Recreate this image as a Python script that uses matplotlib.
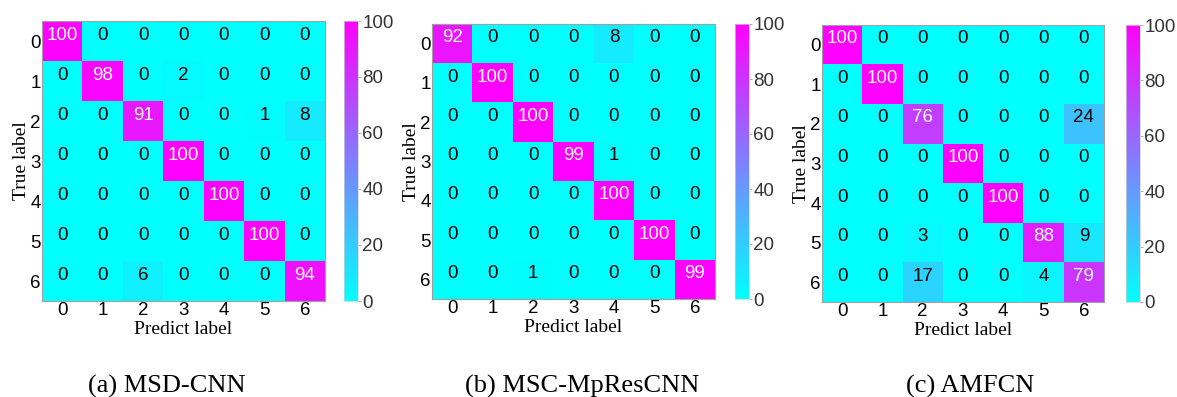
import numpy as np
import matplotlib.pyplot as plt

# confusion matrices (%)
classes = ['0', '1', '2', '3', '4', '5', '6']
cm_msd_cnn = [
    [100, 0, 0, 0, 0, 0, 0],
    [0, 98, 0, 2, 0, 0, 0],
    [0, 0, 91, 0, 0, 1, 8],
    [0, 0, 0, 100, 0, 0, 0],
    [0, 0, 0, 0, 100, 0, 0],
    [0, 0, 0, 0, 0, 100, 0],
    [0, 0, 6, 0, 0, 0, 94],
]
cm_msc_mprescnn = [
    [92, 0, 0, 0, 8, 0, 0],
    [0, 100, 0, 0, 0, 0, 0],
    [0, 0, 100, 0, 0, 0, 0],
    [0, 0, 0, 99, 1, 0, 0],
    [0, 0, 0, 0, 100, 0, 0],
    [0, 0, 0, 0, 0, 100, 0],
    [0, 0, 1, 0, 0, 0, 99],
]
cm_amfcn = [
    [100, 0, 0, 0, 0, 0, 0],
    [0, 100, 0, 0, 0, 0, 0],
    [0, 0, 76, 0, 0, 0, 24],
    [0, 0, 0, 100, 0, 0, 0],
    [0, 0, 0, 0, 100, 0, 0],
    [0, 0, 3, 0, 0, 88, 9],
    [0, 0, 17, 0, 0, 4, 79],
]
captions = ['(a) MSD-CNN', '(b) MSC-MpResCNN', '(c) AMFCN']
cbar_ticks = [0, 20, 40, 60, 80, 100]

W, H = 1177, 397
fig = plt.figure(figsize=(W / 100, H / 100), dpi=100)

# pixel boxes: heatmap (left, top, right, bottom), colorbar (left, right), caption x
boxes = [
    ((42, 21, 325, 301), (344, 358), 167),
    ((432, 24, 715, 299), (735, 749), 582),
    ((822, 25, 1104, 302), (1126, 1140), 970),
]

def px(l, t, r, b):
    return [l / W, 1 - b / H, (r - l) / W, (b - t) / H]

sans = 'Liberation Sans'
serif = 'Liberation Serif'
grey = '#a0a0a0'

for cm, cap, (hb, cb, cx) in zip([cm_msd_cnn, cm_msc_mprescnn, cm_amfcn], captions, boxes):
    data = np.array(cm)
    ax = fig.add_axes(px(*hb))
    im = ax.imshow(data, cmap='cool', vmin=0, vmax=100, aspect='auto')
    for i in range(len(classes)):
        for j in range(len(classes)):
            v = data[i, j]
            ax.text(j, i - 0.15, str(v), ha='center', va='center',
                    color='white' if v > 50 else 'black',
                    fontsize=13.5, family=sans)
    ax.set_xticks(range(len(classes)))
    ax.set_yticks(range(len(classes)))
    ax.set_xticklabels(classes, fontsize=13.5, family=sans)
    ax.set_yticklabels(classes, fontsize=13.5, family=sans)
    ax.tick_params(length=0, pad=1)
    for s in ax.spines.values():
        s.set_color(grey)
        s.set_linewidth(0.8)
    ax.set_xlabel('Predict label', fontsize=14, family=serif, labelpad=1)
    ax.set_ylabel('True label', fontsize=14, family=serif, labelpad=0)

    cax = fig.add_axes(px(cb[0], hb[1], cb[1], hb[3]))
    cbar = fig.colorbar(im, cax=cax, ticks=cbar_ticks)
    cbar.outline.set_edgecolor('#d0d0d0')
    cbar.outline.set_linewidth(0.5)
    cax.tick_params(length=2, width=0.6, color=grey, pad=1, labelsize=13.5)
    for lab in cax.get_yticklabels():
        lab.set_family(sans)
        lab.set_color('#333333')

    fig.text(cx / W, 1 - 386 / H, cap, ha='center', va='center',
             fontsize=19, family=serif)

fig.savefig('out.png', dpi=100)
